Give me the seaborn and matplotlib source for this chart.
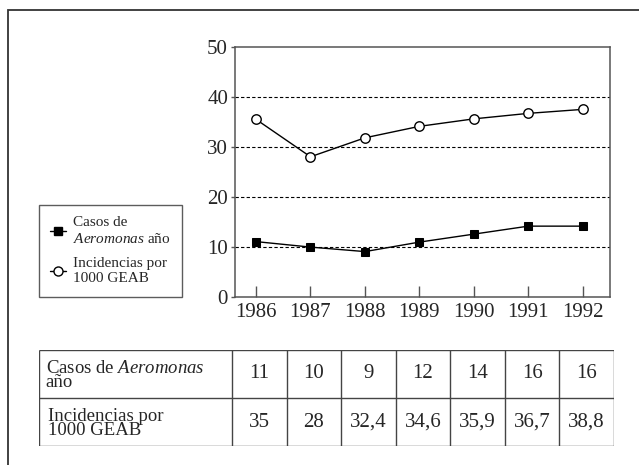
import matplotlib
matplotlib.use("Agg")
import matplotlib.pyplot as plt
import matplotlib.patches as mpatches
from matplotlib.lines import Line2D
import pandas as pd
import seaborn as sns

# datos
anios = [1986, 1987, 1988, 1989, 1990, 1991, 1992]
casos_aeromonas = [11.0, 9.9, 9.0, 10.9, 12.5, 14.1, 14.1]
incidencias_geab = [35.5, 28.0, 31.8, 34.1, 35.6, 36.7, 37.5]

# valores de la tabla
tabla_casos = ["11", "10", "9", "12", "14", "16", "16"]
tabla_incid = ["35", "28", "32,4", "34,6", "35,9", "36,7", "38,8"]
etiqueta_casos = "Casos de $\\mathit{Aeromonas}$\naño"
etiqueta_incid = "Incidencias por\n1000 GEAB"
leyenda_casos = "Casos de\n$\\mathit{Aeromonas}$ año"
leyenda_incid = "Incidencias por\n1000 GEAB"

sns.set_theme(style="ticks")
plt.rcParams["font.family"] = ["Liberation Serif", "DejaVu Serif"]
plt.rcParams["mathtext.fontset"] = "custom"
plt.rcParams["mathtext.rm"] = "Liberation Serif"
plt.rcParams["mathtext.it"] = "Liberation Serif:italic"

W, H = 639, 465
fig = plt.figure(figsize=(W / 100, H / 100), dpi=100)
fig.patch.set_facecolor("white")

# marco exterior (recortado a la derecha y abajo)
fig.patches.append(mpatches.Rectangle((8 / W, -0.1), 1.2, (H - 10) / H + 0.1,
                                      transform=fig.transFigure, fill=False,
                                      edgecolor="#333333", lw=1.3))

ax = fig.add_axes([235 / W, 1 - 296.5 / H, 375 / W, 249.5 / H])
df = pd.DataFrame({"anio": anios, "casos": casos_aeromonas, "incid": incidencias_geab})

sns.lineplot(data=df, x="anio", y="incid", ax=ax, color="black", lw=1,
             marker="o", markersize=6.8, markerfacecolor="white",
             markeredgecolor="black", markeredgewidth=1)
sns.lineplot(data=df, x="anio", y="casos", ax=ax, color="black", lw=1,
             marker="s", markersize=6, markerfacecolor="black",
             markeredgecolor="black")

ax.set_xlim(1985.614, 1992.5)
ax.set_ylim(0, 50)
ax.set_xticks(anios)
ax.set_yticks([0, 10, 20, 30, 40, 50])
ax.set_xlabel("")
ax.set_ylabel("")
for y in [10, 20, 30, 40]:
    ax.axhline(y, color="black", lw=0.8, ls=(0, (3, 2)), zorder=0)
for s in ax.spines.values():
    s.set_color("#555555")
    s.set_linewidth(1.1)
ax.tick_params(axis="x", direction="in", length=8, width=1, color="#555555",
               labelsize=15, pad=5)
ax.tick_params(axis="y", direction="out", length=3, width=1, color="#555555",
               labelsize=15, pad=2)

# leyenda
handles = [
    Line2D([], [], color="black", lw=1, marker="s", markersize=6,
           markerfacecolor="black"),
    Line2D([], [], color="black", lw=1, marker="o", markersize=6.5,
           markerfacecolor="white"),
]
leg = fig.legend(handles, [leyenda_casos, leyenda_incid], loc="upper left",
                 bbox_to_anchor=(39 / W, 1 - 205 / H), borderaxespad=0,
                 fontsize=11, frameon=True, fancybox=False, handlelength=1.0,
                 handletextpad=0.5, labelspacing=0.75, borderpad=0.75)
leg.get_frame().set_edgecolor("#333333")
leg.get_frame().set_linewidth(1)

# tabla
col0 = (232 - 39) / 54.57
tab = fig.add_axes([39 / W, 1 - 446 / H, (614 - 39) / W, 96 / H])
tab.set_xlim(0, col0 + len(anios))
tab.set_ylim(0, 2)
tab.axis("off")
bc = "#444444"
tab.hlines([0, 1, 2], 0, col0 + len(anios), color=bc, lw=1)
tab.vlines([0] + [col0 + i for i in range(len(anios) + 1)], 0, 2, color=bc, lw=1)
tab.text(0.12, 1.47, etiqueta_casos, fontsize=13.5, va="center", ha="left",
         linespacing=0.8)
tab.text(0.17, 0.47, etiqueta_incid, fontsize=13.5, va="center", ha="left",
         linespacing=0.8)
for i, (a, b) in enumerate(zip(tabla_casos, tabla_incid)):
    tab.text(col0 + i + 0.5, 1.5, a, fontsize=15, ha="center", va="center")
    tab.text(col0 + i + 0.5, 0.5, b, fontsize=15, ha="center", va="center")

fig.savefig("out.png", dpi=100)
